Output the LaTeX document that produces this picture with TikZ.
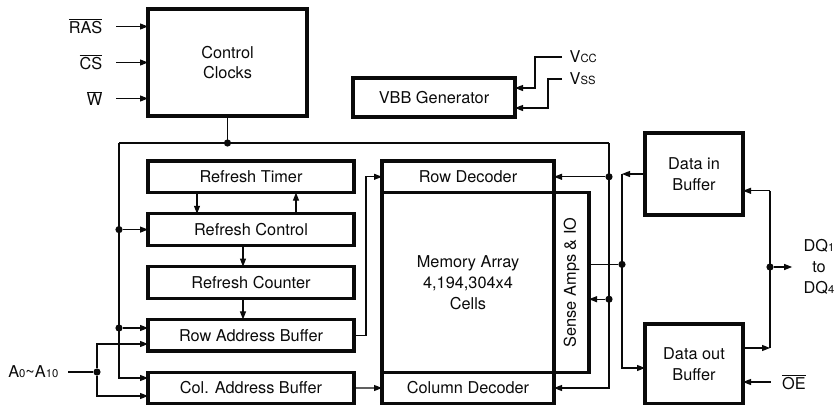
\documentclass[tikz,border=0pt]{standalone}
\usepackage{fontspec}
\setmainfont{TeX Gyre Heros}
\usepackage{graphicx}
\usetikzlibrary{positioning,arrows.meta}
\definecolor{InkBlack}{RGB}{10,10,10}
\newcommand\LabelFont{\fontsize{11.6}{14.8}\selectfont}
\newcommand\SmallPart[1]{{\fontsize{8}{8}\selectfont #1}}
\newcommand\ActiveLow[1]{$\overline{\mbox{#1}}$}
\tikzset{
  flow/.style={-{Stealth[length=2mm,width=1.5mm,inset=0pt]},line width=0.75pt,draw=InkBlack},
  wire/.style={line width=0.75pt,draw=InkBlack},
  box/.style={draw=InkBlack,line width=2.2pt,outer sep=0pt,inner sep=0pt,
    align=center,font=\LabelFont,text=InkBlack},
  rowbox/.style={box,minimum width=5.15cm,minimum height=0.79cm},
  arraybox/.style={box,minimum width=4.3cm},
  bufbox/.style={box,minimum width=2.45cm},
  sig/.style={inner sep=1pt,align=center,font=\LabelFont,text=InkBlack},
  junction/.style={circle,fill=InkBlack,inner sep=0pt,minimum size=1.8mm}
}
\begin{document}
\begin{tikzpicture}
  \useasboundingbox (0,0) rectangle (21,-10.125);
  \node[box,minimum width=3.975cm,minimum height=2.675cm] (clocks) at (5.6875,-1.5625) {Control\\Clocks};
  \node[sig,left=1.1cm of clocks.west,yshift=0.9cm] (ras) {\ActiveLow{RAS}};
  \node[sig,left=1.1cm of clocks.west] (cs) {\ActiveLow{CS}};
  \node[sig,left=1.1cm of clocks.west,yshift=-0.9cm] (we) {\ActiveLow{W}};
  \foreach \s in {ras,cs,we}
    \draw[flow] ([xshift=0.3cm]\s.east) -- (\s.east -| clocks.west);

  \node[box,minimum width=4.05cm,minimum height=0.975cm] (vbb) at (10.85,-2.4375) {VBB Generator};
  \node[sig,anchor=west] (vcc) at (14.2,-1.425) {V\SmallPart{CC}};
  \node[sig,anchor=west] (vss) at (14.2,-1.975) {V\SmallPart{SS}};
  \coordinate (vccbend) at (13.375,-2.2);
  \coordinate (vssbend) at (13.7,-2.7);
  \draw[flow] ([xshift=-0.15cm]vcc.west) -| (vccbend) -- (vccbend -| vbb.east);
  \draw[flow] ([xshift=-0.15cm]vss.west) -| (vssbend) -- (vssbend -| vbb.east);

  \node[rowbox] (timer) at (6.275,-4.42) {Refresh Timer};
  \node[rowbox,below=0.53cm of timer] (refctl) {Refresh Control};
  \node[rowbox,below=0.53cm of refctl] (counter) {Refresh Counter};
  \node[rowbox,below=0.53cm of counter] (rowbuf) {Row Address Buffer};
  \node[rowbox,below=0.53cm of rowbuf] (colbuf) {Col. Address Buffer};

  \node[arraybox,minimum height=0.79cm,right=0.7cm of timer] (rowdec) {Row Decoder};
  \node[arraybox,minimum height=4.49cm,below=0pt of rowdec] (memory) {Memory Array\\4,194,304x4\\Cells};
  \node[arraybox,minimum height=0.79cm,below=0pt of memory] (coldec) {Column Decoder};
  \node[box,minimum width=0.875cm,minimum height=4.49cm,right=0pt of memory] (sense) {\rotatebox{90}{Sense Amps \& IO}};

  \node[bufbox,minimum height=2.05cm] (din) at (17.35,-4.35) {Data in\\Buffer};
  \node[bufbox,minimum height=2cm] (dout) at (17.35,-9.1) {Data out\\Buffer};

  \draw[flow] ([xshift=-1.35cm]timer.south) -- ([xshift=-1.35cm]refctl.north);
  \draw[flow] ([xshift=1.125cm]refctl.north) -- ([xshift=1.125cm]timer.south);
  \draw[flow] ([xshift=-0.2cm]refctl.south) -- ([xshift=-0.2cm]counter.north);
  \draw[flow] ([xshift=-0.2cm]counter.south) -- ([xshift=-0.2cm]rowbuf.north);
  \draw[flow] (rowbuf.east) -- ++(0.3cm,0) |- (rowdec.west);
  \draw[flow] (colbuf.east) -- (coldec.west);

  \coordinate (busL) at (2.975,-3.575);
  \coordinate (busR) at (15.225,-3.575);
  \coordinate (rowbus) at ([yshift=0.18cm]rowbuf.west);
  \coordinate (rowaddr) at ([yshift=-0.22cm]rowbuf.west);
  \coordinate (colbus) at ([yshift=0.25cm]colbuf.west);
  \coordinate (coladdr) at ([yshift=-0.2cm]colbuf.west);
  \draw[wire] (clocks.south) -- (clocks.south |- busL);
  \draw[wire] (busL) -- (busR);
  \draw[flow] (busL) |- (colbus);
  \draw[flow] (busR) |- (coldec.east);
  \node[junction] (clkdot) at (clocks.south |- busL) {};
  \node[junction] (ctldot) at (busL |- refctl.west) {};
  \node[junction] (rowdot) at (busL |- rowbus) {};
  \draw[flow] (ctldot) -- (refctl.west);
  \draw[flow] (rowdot) -- (rowbus);

  \node[sig,anchor=east] (addr) at (1.5,-9.3) {A\SmallPart{0}\textasciitilde A\SmallPart{10}};
  \node[junction] (adot) at (2.425,-9.3) {};
  \draw[wire] ([xshift=0.2cm]addr.east) -- (adot);
  \draw[flow] (adot) |- (rowaddr);
  \draw[flow] (adot) |- (coladdr);

  \coordinate (sensein) at ([yshift=-0.42cm]sense.east);
  \coordinate (senseout) at ([yshift=0.45cm]sense.east);
  \node[junction] (decdot) at (busR |- rowdec.east) {};
  \node[junction] (sensedot) at (busR |- sensein) {};
  \draw[flow] (decdot) -- (rowdec.east);
  \draw[flow] (sensedot) -- (sensein);

  \coordinate (dbus) at (15.55,0);
  \coordinate (doutin) at ([yshift=-0.1cm]dout.west);
  \draw[flow] (din.west) -- (din.west -| dbus);
  \draw[flow] (din.west -| dbus) |- (doutin);
  \node[junction] (datadot) at (dbus |- senseout) {};
  \draw[wire] (senseout) -- (datadot);

  \coordinate (dq) at (19.25,0);
  \coordinate (dinin) at ([yshift=-0.42cm]din.east);
  \coordinate (doutout) at ([yshift=0.4cm]dout.east);
  \draw[flow] (doutout) -- (doutout -| dq);
  \draw[wire] (doutout -| dq) -- (dinin -| dq);
  \draw[flow] (dinin -| dq) -- (dinin);
  \node[junction] (dqdot) at (19.25,-6.675) {};
  \node[sig,inner sep=0pt] (dqlab) at (20.475,-6.675) {DQ\SmallPart{1}\\to\\DQ\SmallPart{4}};
  \draw[flow] (dqdot) -- ([xshift=-0.28cm]dqlab.west);

  \node[sig] (oe) at (19.85,-9.55) {\ActiveLow{OE}};
  \draw[flow] ([xshift=-0.25cm]oe.west) -- (oe.west -| dout.east);
\end{tikzpicture}
\end{document}
